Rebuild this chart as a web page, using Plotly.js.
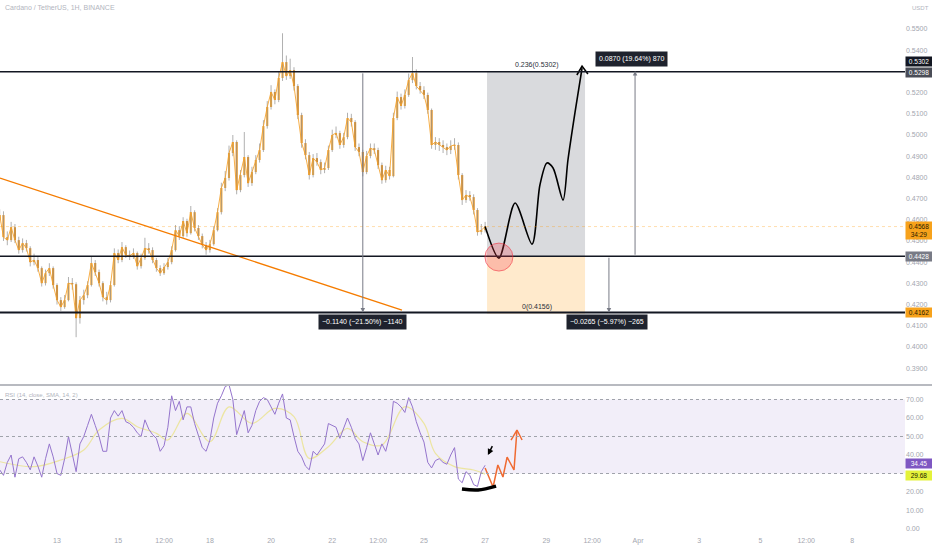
<!DOCTYPE html>
<html>
<head>
<meta charset="utf-8">
<script src="https://cdn.plot.ly/plotly-3.0.1.min.js"></script>
<style>html,body{margin:0;padding:0;background:#fff;}#chart{width:932px;height:550px;}</style>
</head>
<body>
<div id="chart"></div>
<script>
// ---- data (3-hour candles, starting 11 Mar 03:00) ----
var firstOpen = 0.4600;
var closes = [0.4622,0.4518,0.4504,0.4565,0.4504,0.4457,0.4490,0.4466,0.4400,0.4410,
0.4372,0.4301,0.4348,0.4372,0.4292,0.4221,0.4188,0.4221,0.4301,0.4296,
0.4136,0.4221,0.4244,0.4292,0.4396,0.4353,0.4301,0.4235,0.4221,0.4292,
0.4443,0.4410,0.4471,0.4433,0.4429,0.4443,0.4381,0.4419,0.4466,0.4457,
0.4410,0.4372,0.4348,0.4377,0.4400,0.4457,0.4551,0.4523,0.4594,0.4537,
0.4636,0.4561,0.4523,0.4481,0.4457,0.4485,0.4551,0.4636,0.4750,0.4797,
0.4915,0.4967,0.4740,0.4811,0.4896,0.4773,0.4825,0.4882,0.4929,0.5042,
0.5132,0.5203,0.5165,0.5269,0.5344,0.5278,0.5306,0.5231,0.5094,0.4962,
0.4905,0.4811,0.4891,0.4872,0.4835,0.4844,0.4929,0.5000,0.5009,0.4953,
0.4990,0.5080,0.5061,0.4943,0.4920,0.4825,0.4901,0.4938,0.4929,0.4858,
0.4787,0.4835,0.4806,0.5080,0.5179,0.5137,0.5189,0.5259,0.5292,0.5231,
0.5212,0.5189,0.5118,0.4953,0.4967,0.4953,0.4943,0.4929,0.4948,0.4953,
0.4811,0.4693,0.4717,0.4707,0.4646,0.4542,0.4551,0.4568];
var highs = [0.4650,0.4640,0.4545,0.4590,0.4580,0.4520,0.4512,0.4505,0.4475,0.4440,
0.4425,0.4380,0.4365,0.4395,0.4380,0.4300,0.4235,0.4245,0.4330,0.4325,
0.4305,0.4240,0.4270,0.4310,0.4425,0.4410,0.4365,0.4310,0.4260,0.4310,
0.4465,0.4460,0.4495,0.4480,0.4455,0.4465,0.4450,0.4440,0.4515,0.4490,
0.4470,0.4420,0.4385,0.4395,0.4420,0.4475,0.4575,0.4570,0.4612,0.4605,
0.4665,0.4645,0.4575,0.4535,0.4495,0.4505,0.4570,0.4655,0.4775,0.4830,
0.4950,0.5000,0.4975,0.4835,0.5014,0.4905,0.4850,0.4905,0.4960,0.5070,
0.5160,0.5235,0.5215,0.5300,0.5480,0.5375,0.5360,0.5320,0.5240,0.5105,
0.4980,0.4920,0.4910,0.4915,0.4885,0.4870,0.4950,0.5025,0.5040,0.5020,
0.5010,0.5105,0.5100,0.5070,0.4960,0.4930,0.4925,0.4960,0.4960,0.4940,
0.4870,0.4855,0.4850,0.5105,0.5205,0.5195,0.5215,0.5290,0.5368,0.5310,
0.5250,0.5230,0.5200,0.5125,0.4990,0.4985,0.4975,0.4960,0.4975,0.4985,
0.4965,0.4820,0.4740,0.4735,0.4720,0.4655,0.4580,0.4590];
var lows = [0.4585,0.4500,0.4480,0.4495,0.4490,0.4440,0.4445,0.4450,0.4380,0.4385,
0.4355,0.4285,0.4290,0.4335,0.4275,0.4200,0.4170,0.4180,0.4215,0.4270,
0.4046,0.4110,0.4200,0.4230,0.4285,0.4335,0.4285,0.4215,0.4200,0.4210,
0.4285,0.4395,0.4400,0.4420,0.4410,0.4415,0.4365,0.4370,0.4410,0.4440,
0.4395,0.4355,0.4335,0.4340,0.4365,0.4390,0.4450,0.4505,0.4515,0.4520,
0.4530,0.4545,0.4505,0.4465,0.4435,0.4445,0.4478,0.4545,0.4625,0.4735,
0.4785,0.4900,0.4720,0.4730,0.4800,0.4755,0.4760,0.4815,0.4870,0.4920,
0.5030,0.5120,0.5145,0.5155,0.5255,0.5260,0.5265,0.5210,0.5075,0.4940,
0.4885,0.4790,0.4800,0.4855,0.4815,0.4820,0.4835,0.4920,0.4985,0.4935,
0.4940,0.4980,0.5040,0.4925,0.4900,0.4805,0.4815,0.4890,0.4910,0.4840,
0.4770,0.4775,0.4790,0.4800,0.5070,0.5120,0.5125,0.5180,0.5245,0.5215,
0.5195,0.5170,0.5100,0.4935,0.4930,0.4925,0.4915,0.4905,0.4910,0.4930,
0.4790,0.4670,0.4680,0.4690,0.4625,0.4525,0.4530,0.4540];
var rsi = [32,29,36,40,28,38,39,36,32,39,
34,28,38,46,39,30,29,38,50,40,
31,46,50,56,62,56,50,42,42,60,
64,61,64,58,57,55,52,50,59,54,
51,49,42,45,55,72,64,69,59,66,
66,57,50,44,42,48,60,68,72,77,
78,70,51,58,64,52,56,64,69,71,
70,66,62,68,73,60,59,50,42,39,
34,32,42,40,43,46,57,56,55,49,
55,60,55,49,46,37,44,52,46,40,
46,42,50,69,68,66,63,71,66,58,
52,47,36,33,37,38,36,35,40,44,
27,25,31,29,24,23,31,34.45];
var maIdx = [0,9,16,22,26,32,36,41,44,49,55,60,66,72,77,81,86,91,95,100,106,111,114,119,124,127];
var maVal = [36.4,33.7,37.3,42.7,53.5,59.8,55.3,51.7,48.1,62.5,47.2,66.0,57.1,65.2,60.7,38.2,44.5,54.4,47.2,45.4,66.1,57.1,40.9,33.7,31.9,29.68];

var trendX = ['2024-03-11 03:16','2024-03-24 06:45'];
var trendY = [0.4797,0.4174];
var projX = ['2024-03-27 00:00','2024-03-27 10:50','2024-03-27 23:30','2024-03-28 12:50','2024-03-28 19:00','2024-03-29 00:30','2024-03-29 05:20','2024-03-29 13:10','2024-03-29 17:00','2024-03-29 22:35','2024-03-30 04:05'];
var projY = [0.4568,0.4419,0.4679,0.4485,0.4764,0.4868,0.4844,0.4693,0.4882,0.5108,0.5316];
var projHeadX = ['2024-03-30 00:00','2024-03-30 04:05','2024-03-30 08:40'];
var projHeadY = [0.5283,0.5325,0.5288];
var rsiProjX = ['2024-03-27 00:00','2024-03-27 06:15','2024-03-27 10:00','2024-03-27 14:00','2024-03-27 17:15','2024-03-27 22:40','2024-03-28 01:00'];
var rsiProjY = [33,22.7,34.6,28.1,38.9,31.9,53.5];
var rsiHeadX = ['2024-03-27 20:20','2024-03-28 01:00','2024-03-28 05:00'];
var rsiHeadY = [48.1,53.5,48.1];
var underX = ['2024-03-26 05:50','2024-03-26 18:25','2024-03-27 08:35'];
var underY = [21.6,21.1,23.2];

var tickDates = ['2024-03-13','2024-03-15','2024-03-16 12:00','2024-03-18','2024-03-20','2024-03-22','2024-03-23 12:00','2024-03-25','2024-03-27','2024-03-29','2024-03-30 12:00','2024-04-01','2024-04-03','2024-04-05','2024-04-06 12:00','2024-04-08'];
var tickLabels = ['13','15','12:00','18','20','22','12:00','25','27','29','12:00','Apr','3','5','12:00','8'];
// ticks hidden behind the price labels in the reference (0.5300, 30.00) are left out
var priceTicks = [0.39,0.40,0.41,0.42,0.43,0.44,0.45,0.46,0.47,0.48,0.49,0.50,0.51,0.52,0.54,0.55];
var rsiTicks = [0,10,20,40,50,60,70];

// ---- build ----
var start = Date.UTC(2024,2,11,3,0,0);
var step = 3*3600*1000;
function fmt(ms){ return new Date(ms).toISOString().slice(0,19).replace('T',' '); }
var times = closes.map(function(_,i){ return fmt(start + i*step); });
var opens = closes.map(function(c,i){ return i ? closes[i-1] : firstOpen; });
var bodyBase = [], bodyH = [], bodyCol = [];
closes.forEach(function(c,i){
  var o = opens[i];
  bodyBase.push(Math.min(o,c));
  bodyH.push(Math.max(Math.abs(c-o),0.0006));
  bodyCol.push(c>=o ? '#f7a52a' : '#ec8f12');
});
var wx = [], wy = [];
closes.forEach(function(c,i){ wx.push(times[i],times[i],null); wy.push(lows[i],highs[i],null); });
var maX = maIdx.map(function(i){ return times[i]; });

var FONT = 'Liberation Sans, Arial, sans-serif';
var traces = [
  {type:'scatter', mode:'lines', x:wx, y:wy, line:{color:'rgba(150,150,150,0.75)', width:1}, hoverinfo:'skip', xaxis:'x', yaxis:'y'},
  {type:'scatter', mode:'lines', x:times, y:closes, line:{color:'rgba(245,160,40,0.85)', width:1}, hoverinfo:'skip', xaxis:'x', yaxis:'y'},
  {type:'bar', x:times, base:bodyBase, y:bodyH, width:step*0.55, marker:{color:bodyCol, line:{width:0}}, hoverinfo:'skip', xaxis:'x', yaxis:'y'},
  {type:'scatter', mode:'lines', x:trendX, y:trendY, line:{color:'#f57c00', width:1.3}, hoverinfo:'skip', xaxis:'x', yaxis:'y'},
  {type:'scatter', mode:'lines', x:projX, y:projY, line:{color:'#000', width:1.6, shape:'spline', smoothing:0.8}, hoverinfo:'skip', xaxis:'x', yaxis:'y'},
  {type:'scatter', mode:'lines', x:projHeadX, y:projHeadY, line:{color:'#000', width:1.6}, hoverinfo:'skip', xaxis:'x', yaxis:'y'},
  {type:'scatter', mode:'lines', x:maX, y:maVal, line:{color:'rgba(232,222,90,0.55)', width:1.2, shape:'spline'}, hoverinfo:'skip', xaxis:'x', yaxis:'y2'},
  {type:'scatter', mode:'lines', x:times, y:rsi, line:{color:'#9575cd', width:1}, hoverinfo:'skip', xaxis:'x', yaxis:'y2'},
  {type:'scatter', mode:'lines', x:rsiProjX, y:rsiProjY, line:{color:'#ef6a32', width:1.5}, hoverinfo:'skip', xaxis:'x', yaxis:'y2'},
  {type:'scatter', mode:'lines', x:rsiHeadX, y:rsiHeadY, line:{color:'#ef6a32', width:1.5}, hoverinfo:'skip', xaxis:'x', yaxis:'y2'},
  {type:'scatter', mode:'lines', x:underX, y:underY, line:{color:'#000', width:3.5, shape:'spline'}, hoverinfo:'skip', xaxis:'x', yaxis:'y2'}
];

var shapes = [
  {type:'rect', xref:'x', yref:'y', x0:'2024-03-27 01:30', x1:'2024-03-30 06:25', y0:0.4428, y1:0.5302, fillcolor:'rgba(120,123,134,0.28)', line:{width:0}, layer:'below'},
  {type:'rect', xref:'x', yref:'y', x0:'2024-03-27 01:30', x1:'2024-03-30 06:25', y0:0.4156, y1:0.4428, fillcolor:'rgba(255,152,0,0.2)', line:{width:0}, layer:'below'},
  {type:'line', xref:'paper', yref:'y', x0:0, x1:1, y0:0.4568, y1:0.4568, line:{color:'rgba(255,152,0,0.45)', width:0.7, dash:'dot'}},
  {type:'line', xref:'paper', yref:'y', x0:0, x1:1, y0:0.5298, y1:0.5298, line:{color:'#131722', width:1.5}},
  {type:'line', xref:'paper', yref:'y', x0:0, x1:1, y0:0.4428, y1:0.4428, line:{color:'#131722', width:1.5}},
  {type:'line', xref:'paper', yref:'y', x0:0, x1:1, y0:0.4162, y1:0.4162, line:{color:'#131722', width:2}},
  {type:'circle', xref:'x', yref:'y', xsizemode:'pixel', ysizemode:'pixel', xanchor:'2024-03-27 10:50', yanchor:0.4424, x0:-14, x1:14, y0:-14, y1:14, fillcolor:'rgba(242,54,69,0.25)', line:{color:'rgba(242,54,69,0.6)', width:1}},
  {type:'rect', xref:'paper', yref:'y2', x0:0, x1:1, y0:30, y1:70, fillcolor:'rgba(126,87,194,0.1)', line:{width:0}, layer:'below'},
  {type:'line', xref:'paper', yref:'y2', x0:0, x1:1, y0:70, y1:70, line:{color:'#a0a3ab', width:1, dash:'3px,3px'}},
  {type:'line', xref:'paper', yref:'y2', x0:0, x1:1, y0:50, y1:50, line:{color:'#a0a3ab', width:1, dash:'3px,3px'}},
  {type:'line', xref:'paper', yref:'y2', x0:0, x1:1, y0:30, y1:30, line:{color:'#a0a3ab', width:1, dash:'3px,3px'}},
  {type:'line', xref:'paper', yref:'paper', x0:0, x1:1.03, y0:0.2804, y1:0.2804, line:{color:'#a0a3ab', width:1.5}}
];

function axisLabel(y, yref, text, bg, color, yshift){
  return {xref:'paper', yref:yref, x:1, y:y, xanchor:'left', yanchor:'middle', xshift:0, yshift:yshift||0,
    text:text, showarrow:false, bgcolor:bg, borderpad:1, width:24, align:'center',
    font:{family:FONT, size:6.5, color:color}};
}
function measure(x, y, ax, ay){
  return {xref:'x', yref:'y', axref:'x', ayref:'y', x:x, y:y, ax:ax, ay:ay, text:'', showarrow:true,
    arrowhead:2, arrowsize:0.9, arrowwidth:1, arrowcolor:'#787b86'};
}
function box(x, y, text){
  return {xref:'x', yref:'y', x:x, y:y, text:text, showarrow:false, bgcolor:'#1e222d', borderpad:3,
    font:{family:FONT, size:7, color:'#ffffff'}};
}

var annotations = [
  {xref:'paper', yref:'paper', x:0, y:1, xanchor:'left', yanchor:'top', xshift:3, yshift:-2, showarrow:false,
   text:'Cardano / TetherUS, 1H, BINANCE', font:{family:FONT, size:7, color:'#b2b5be'}},
  {xref:'paper', yref:'paper', x:1, y:1, xanchor:'left', yanchor:'top', xshift:5, yshift:-3, showarrow:false,
   text:'USDT', font:{family:FONT, size:6, color:'#b2b5be'}},
  {xref:'paper', yref:'paper', x:0, y:0.2785, xanchor:'left', yanchor:'top', xshift:3, yshift:-4, showarrow:false,
   text:'RSI (14, close, SMA, 14, 2)', font:{family:FONT, size:6, color:'#b2b5be'}},
  measure('2024-03-23 00:00', 0.4162, '2024-03-23 00:00', 0.5298),
  measure('2024-03-31 21:40', 0.5302, '2024-03-31 21:40', 0.4428),
  measure('2024-03-31 01:10', 0.4162, '2024-03-31 01:10', 0.4428),
  box('2024-03-23 00:00', 0.4117, '\u22120.1140 (\u221221.50%) \u22121140'),
  box('2024-03-31 00:00', 0.4117, '\u22120.0265 (\u22125.97%) \u2212265'),
  box('2024-03-31 18:30', 0.5358, '0.0870 (19.64%) 870'),
  {xref:'x', yref:'y', x:'2024-03-28 16:50', y:0.5330, text:'0.236(0.5302)', showarrow:false, font:{family:FONT, size:7, color:'#2a2e39'}},
  {xref:'x', yref:'y', x:'2024-03-28 16:50', y:0.4190, text:'0(0.4156)', showarrow:false, font:{family:FONT, size:7, color:'#2a2e39'}},
  {xref:'x', yref:'y2', x:'2024-03-27 02:10', y:40, ax:'2024-03-27 06:15', ay:45.6, axref:'x', ayref:'y2', text:'', showarrow:true,
   arrowhead:2, arrowsize:0.8, arrowwidth:1.5, arrowcolor:'#000'},
  axisLabel(0.5302, 'y', '0.5302', '#131722', '#ffffff', 10),
  axisLabel(0.5298, 'y', '0.5298', '#4a4d57', '#ffffff', -1),
  axisLabel(0.4568, 'y', '0.4568<br>34:29', '#f7a21b', '#2a1a00', -4),
  axisLabel(0.4428, 'y', '0.4428', '#787b86', '#ffffff', 0),
  axisLabel(0.4162, 'y', '0.4162', '#f7a21b', '#2a1a00', 0),
  axisLabel(34.45, 'y2', '34.45', '#7e57c2', '#ffffff', 1.5),
  axisLabel(29.68, 'y2', '29.68', '#e4f23a', '#1a1a00', -1.5)
];

var layout = {
  width:932, height:550,
  margin:{l:0, r:27, t:0, b:15, pad:0},
  paper_bgcolor:'#ffffff', plot_bgcolor:'#ffffff',
  showlegend:false,
  barmode:'overlay',
  font:{family:FONT, size:7, color:'#a3a6af'},
  xaxis:{type:'date', range:['2024-03-11 03:16','2024-04-09 17:32'], anchor:'y2',
    tickmode:'array', tickvals:tickDates, ticktext:tickLabels, ticks:'', showgrid:false, zeroline:false,
    showline:false, tickfont:{family:FONT, size:7, color:'#a3a6af'}, fixedrange:true},
  yaxis:{domain:[0.2822,1], range:[0.3825,0.5637], side:'right', anchor:'x',
    tickmode:'array', tickvals:priceTicks, ticktext:priceTicks.map(function(v){return v.toFixed(4);}),
    ticks:'', showgrid:false, zeroline:false, showline:false, tickfont:{family:FONT, size:7, color:'#a3a6af'}, fixedrange:true},
  yaxis2:{domain:[0,0.2785], range:[-3.24,77.3], side:'right', anchor:'x',
    tickmode:'array', tickvals:rsiTicks, ticktext:rsiTicks.map(function(v){return v.toFixed(2);}),
    ticks:'', showgrid:false, zeroline:false, showline:false, tickfont:{family:FONT, size:7, color:'#a3a6af'}, fixedrange:true},
  shapes:shapes,
  annotations:annotations
};

Plotly.newPlot('chart', traces, layout, {displayModeBar:false, staticPlot:true});
</script>
</body>
</html>
